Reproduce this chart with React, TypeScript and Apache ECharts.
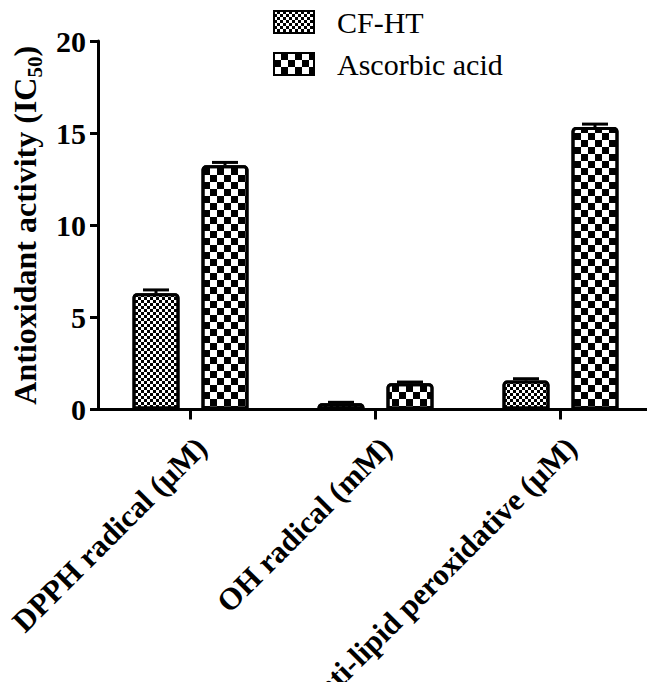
import React, { useEffect, useRef } from 'react';
import * as echarts from 'echarts';

const categories = ['DPPH radical (μM)', 'OH radical (mM)', 'anti-lipid peroxidative (μM)'];
const seriesNames = ['CF-HT', 'Ascorbic acid'];
const cfhtValues = [6.31, 0.34, 1.57];
const cfhtErrors = [0.18, 0.05, 0.1];
const ascorbicValues = [13.25, 1.43, 15.33];
const ascorbicErrors = [0.16, 0.06, 0.16];
const yMin = 0;
const yMax = 20;
const yInterval = 5;

const FONT = "'Liberation Serif', 'Times New Roman', serif";
const BAR_W = 47;
const GAP = 22;

const fineChecker = {
  symbol: 'rect',
  symbolSize: 1,
  dashArrayX: [[3, 3], [0, 3, 3, 0]],
  dashArrayY: [3, 0],
  color: '#000',
  backgroundColor: '#fff',
};
const coarseChecker = {
  symbol: 'rect',
  symbolSize: 1,
  dashArrayX: [[7, 7], [0, 7, 7, 0]],
  dashArrayY: [7, 0],
  color: '#000',
  backgroundColor: '#fff',
};

function makeErr(name: string, vals: number[], errs: number[], sign: number) {
  return {
    type: 'custom',
    name,
    z: 5,
    silent: true,
    data: vals.map((v, i) => [i, v, errs[i]]),
    encode: { x: 0, y: 1 },
    renderItem: (_p: any, api: any) => {
      const i = api.value(0);
      const v = api.value(1);
      const e = api.value(2);
      const base = api.coord([i, v]);
      const top = api.coord([i, v + e]);
      const x = base[0] + (sign * (BAR_W + GAP)) / 2;
      const half = 13;
      return {
        type: 'group',
        children: [
          { type: 'line', shape: { x1: x, y1: base[1], x2: x, y2: top[1] }, style: { stroke: '#000', lineWidth: 3 } },
          { type: 'line', shape: { x1: x - half, y1: top[1], x2: x + half, y2: top[1] }, style: { stroke: '#000', lineWidth: 3 } },
        ],
      };
    },
  };
}

export default function App() {
  const ref = useRef<HTMLDivElement>(null);
  useEffect(() => {
    if (!ref.current) return;
    const chart = echarts.init(ref.current, undefined, { renderer: 'svg' });
    chart.setOption({
      animation: false,
      backgroundColor: '#fff',
      legend: {
        orient: 'vertical',
        left: 273,
        top: 7,
        padding: 0,
        itemWidth: 40,
        itemHeight: 22,
        itemGap: 12,
        icon: 'rect',
        data: seriesNames,
        textStyle: { fontFamily: FONT, fontSize: 30, color: '#000', padding: [0, 0, 0, 18] },
      },
      grid: { left: 98, top: 41, width: 555, height: 368.5, outerBoundsMode: 'none', containLabel: false },
      xAxis: {
        type: 'category',
        data: categories,
        boundaryGap: true,
        axisLine: { show: true, lineStyle: { color: '#000', width: 3 } },
        axisTick: { show: true, alignWithLabel: true, length: 10, lineStyle: { color: '#000', width: 3 } },
        axisLabel: {
          rotate: 45,
          interval: 0,
          fontFamily: FONT,
          fontWeight: 'bold',
          fontSize: 31,
          color: '#000',
          margin: 22,
          verticalAlign: 'top',
        },
      },
      yAxis: {
        type: 'value',
        min: yMin,
        max: yMax,
        interval: yInterval,
        splitLine: { show: false },
        axisLine: { show: true, lineStyle: { color: '#000', width: 3 } },
        axisTick: { show: true, length: 8, lineStyle: { color: '#000', width: 3 } },
        axisLabel: { fontFamily: FONT, fontWeight: 'bold', fontSize: 30, color: '#000', margin: 12 },
        name: '{t|Antioxidant activity (IC}{s|50}{t|)}',
        nameLocation: 'middle',
        nameRotate: 90,
        nameGap: 53,
        nameTextStyle: {
          rich: {
            t: { fontFamily: FONT, fontWeight: 'bold', fontSize: 32, color: '#000' },
            s: { fontFamily: FONT, fontWeight: 'bold', fontSize: 21, color: '#000', verticalAlign: 'bottom', padding: [0, 0, -4, 0] },
          },
        },
      },
      series: [
        {
          type: 'bar',
          name: seriesNames[0],
          data: cfhtValues,
          barWidth: BAR_W,
          barGap: `${(GAP / BAR_W) * 100}%`,
          itemStyle: { color: '#fff', borderColor: '#000', borderWidth: 3, borderRadius: [3, 3, 0, 0], decal: fineChecker },
        },
        {
          type: 'bar',
          name: seriesNames[1],
          data: ascorbicValues,
          barWidth: BAR_W,
          barGap: `${(GAP / BAR_W) * 100}%`,
          itemStyle: { color: '#fff', borderColor: '#000', borderWidth: 3, borderRadius: [3, 3, 0, 0], decal: coarseChecker },
        },
        makeErr('cfhtErr', cfhtValues, cfhtErrors, -1),
        makeErr('ascErr', ascorbicValues, ascorbicErrors, 1),
      ],
    });
    return () => chart.dispose();
  }, []);
  return (
    <div
      ref={ref}
      style={{ position: 'fixed', left: 0, top: 0, width: 647, height: 682, background: '#fff' }}
    />
  );
}
